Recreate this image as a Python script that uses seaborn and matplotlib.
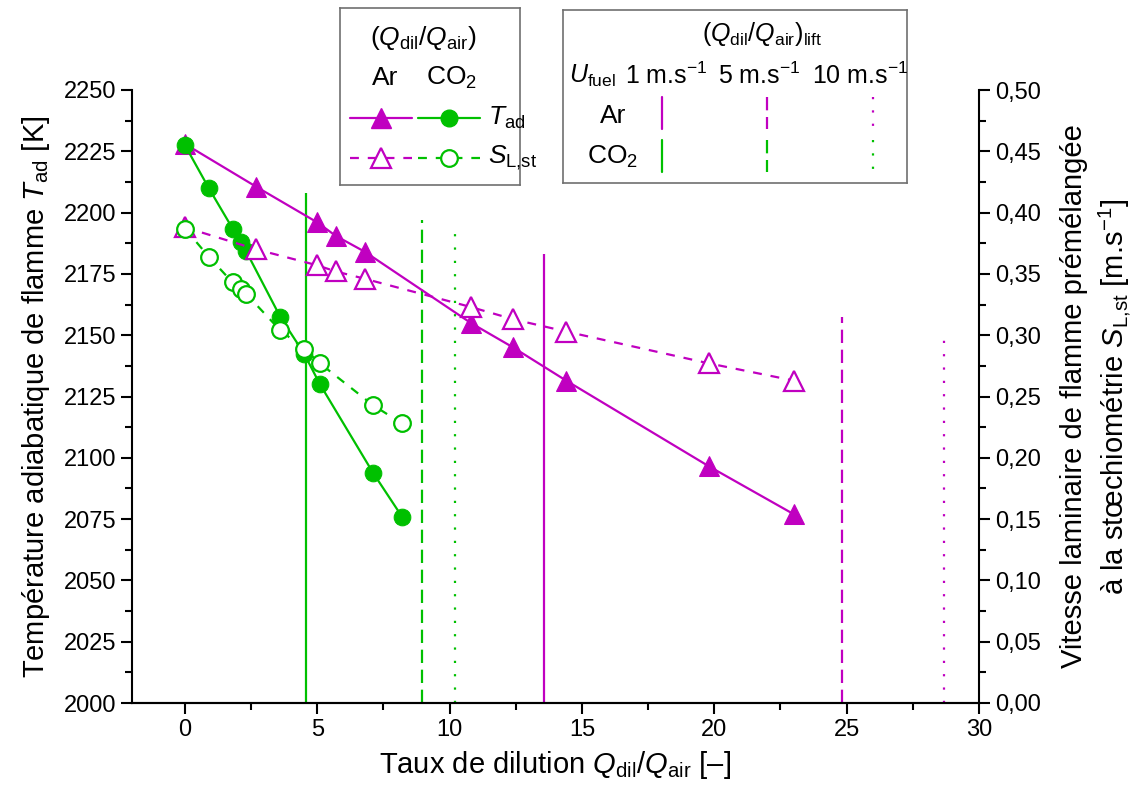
import numpy as np
import pandas as pd
import matplotlib
matplotlib.use('Agg')
import matplotlib.pyplot as plt
from matplotlib.ticker import MultipleLocator, FuncFormatter
import seaborn as sns

# ---- data ----
ar_x = [0.0, 2.7, 5.0, 5.7, 6.8, 10.8, 12.4, 14.4, 19.8, 23.0]
ar_tad = [2228, 2210.5, 2196, 2190.5, 2184, 2155, 2145, 2131.5, 2096.5, 2077]
ar_sl = [0.388, 0.370, 0.357, 0.352, 0.346, 0.323, 0.313, 0.303, 0.277, 0.263]

co2_x = [0.0, 0.9, 1.8, 2.1, 2.3, 3.6, 4.5, 5.1, 7.1, 8.2]
co2_tad = [2227.5, 2210, 2193.5, 2188, 2184.5, 2157.5, 2142.5, 2130, 2094, 2076]
co2_sl = [0.387, 0.364, 0.343, 0.338, 0.334, 0.304, 0.289, 0.277, 0.243, 0.228]

# lift-off dilution rate for U_fuel = 1, 5, 10 m/s
lift_speed = ['1', '5', '10']
ar_lift = [13.55, 24.82, 28.67]
ar_lift_top = [2183, 2157.5, 2152]
co2_lift = [4.57, 8.95, 10.19]
co2_lift_top = [2208, 2197, 2192]

MAG = '#C000C0'
GRN = '#00C000'
lift_styles = ['-', (0, (6, 3)), (0, (1, 5))]

sns.set_theme(style='ticks')
plt.rcParams['font.family'] = ['Liberation Sans', 'DejaVu Sans']
plt.rcParams['mathtext.fontset'] = 'custom'
plt.rcParams['mathtext.rm'] = 'Liberation Sans'
plt.rcParams['mathtext.it'] = 'Liberation Sans:italic'
plt.rcParams['mathtext.bf'] = 'Liberation Sans:bold'
for k in ['text.color', 'axes.labelcolor', 'xtick.color', 'ytick.color', 'axes.edgecolor']:
    plt.rcParams[k] = 'black'

fig = plt.figure(figsize=(11.37, 7.85), dpi=100)
ax = fig.add_axes([132 / 1137, 1 - 703 / 785, (979 - 132) / 1137, (703 - 90) / 785])
ax2 = ax.twinx()

# lift-off lines
for x, top, ls in zip(co2_lift, co2_lift_top, lift_styles):
    ax.vlines(x, 2000, top, color=GRN, lw=1.6, linestyles=[ls])
for x, top, ls in zip(ar_lift, ar_lift_top, lift_styles):
    ax.vlines(x, 2000, top, color=MAG, lw=1.6, linestyles=[ls])

df_ar = pd.DataFrame({'x': ar_x, 'tad': ar_tad, 'sl': ar_sl})
df_co2 = pd.DataFrame({'x': co2_x, 'tad': co2_tad, 'sl': co2_sl})

sns.lineplot(data=df_ar, x='x', y='tad', ax=ax, color=MAG, lw=1.6, marker='^',
             markersize=14, markeredgecolor=MAG, markerfacecolor=MAG)
sns.lineplot(data=df_co2, x='x', y='tad', ax=ax, color=GRN, lw=1.6, marker='o',
             markersize=12, markeredgecolor=GRN, markerfacecolor=GRN)
sns.lineplot(data=df_ar, x='x', y='sl', ax=ax2, color=MAG, lw=1.6, marker='^',
             linestyle=(0, (4, 4)), markersize=14, markeredgecolor=MAG,
             markerfacecolor='white', markeredgewidth=1.6)
sns.lineplot(data=df_co2, x='x', y='sl', ax=ax2, color=GRN, lw=1.6, marker='o',
             linestyle=(0, (4, 4)), markersize=12, markeredgecolor=GRN,
             markerfacecolor='white', markeredgewidth=1.6)

ax.set_xlim(-2, 30)
ax.set_ylim(2000, 2250)
ax2.set_ylim(0, 0.5)
ax.xaxis.set_major_locator(MultipleLocator(5))
ax.xaxis.set_minor_locator(MultipleLocator(2.5))
ax.yaxis.set_major_locator(MultipleLocator(25))
ax.yaxis.set_minor_locator(MultipleLocator(12.5))
ax2.yaxis.set_major_locator(MultipleLocator(0.05))
ax2.yaxis.set_minor_locator(MultipleLocator(0.025))
ax2.yaxis.set_major_formatter(FuncFormatter(lambda v, _: f'{v:.2f}'.replace('.', ',')))

for a in (ax, ax2):
    a.tick_params(which='major', direction='out', length=8, width=1.5, labelsize=17,
                  color='black', labelcolor='black')
    a.tick_params(which='minor', direction='out', length=5, width=1.5, color='black')
    for s in a.spines.values():
        s.set_linewidth(1.5)
        s.set_color('black')
    a.spines['top'].set_visible(False)
ax2.spines['left'].set_visible(False)
ax.spines['right'].set_visible(False)

ax.set_xlabel(r'Taux de dilution $Q_{\rm dil}/Q_{\rm air}$ [–]', fontsize=21, labelpad=6)
ax.set_ylabel(r'Température adiabatique de flamme $T_{\rm ad}$ [K]', fontsize=21, labelpad=8)
ax2.set_ylabel('Vitesse laminaire de flamme prémélangée\n'
               r'à la stœchiométrie $S_{\rm L{,}st}$ [m.s$^{-1}$]', fontsize=21, labelpad=14,
               linespacing=1.3)

# ---- legend box 1: symbols ----
lg1 = fig.add_axes([340 / 1137, 1 - 185 / 785, 180 / 1137, 177 / 785])
lg1.set_xlim(340, 520)
lg1.set_ylim(185, 8)
lg1.set_xticks([])
lg1.set_yticks([])
for s in lg1.spines.values():
    s.set_color('#707070')
    s.set_linewidth(1.2)
lg1.text(423, 38, r'$(Q_{\rm dil}/Q_{\rm air})$', fontsize=19, ha='center', va='center')
lg1.text(385, 78, 'Ar', fontsize=19, ha='center', va='center')
lg1.text(452, 78, r'CO$_2$', fontsize=19, ha='center', va='center')
lg1.plot([350, 381, 412], [118, 118, 118], color=MAG, lw=1.6, marker='^', ms=14,
         markevery=[1], mfc=MAG, mec=MAG)
lg1.plot([418, 449, 480], [118, 118, 118], color=GRN, lw=1.6, marker='o', ms=12,
         markevery=[1], mfc=GRN, mec=GRN)
lg1.plot([350, 381, 412], [158, 158, 158], color=MAG, lw=1.6, marker='^', ms=14,
         markevery=[1], mfc='white', mec=MAG, mew=1.6, ls=(0, (4, 4)))
lg1.plot([418, 449, 480], [158, 158, 158], color=GRN, lw=1.6, marker='o', ms=12,
         markevery=[1], mfc='white', mec=GRN, mew=1.6, ls=(0, (4, 4)))
lg1.text(488, 118, r'$T_{\rm ad}$', fontsize=19, ha='left', va='center')
lg1.text(488, 158, r'$S_{\rm L{,}st}$', fontsize=19, ha='left', va='center')

# ---- legend box 2: lift-off lines ----
lg2 = fig.add_axes([563 / 1137, 1 - 183 / 785, 344 / 1137, 173 / 785])
lg2.set_xlim(563, 907)
lg2.set_ylim(183, 10)
lg2.set_xticks([])
lg2.set_yticks([])
for s in lg2.spines.values():
    s.set_color('#707070')
    s.set_linewidth(1.2)
lg2.text(762, 34, r'$(Q_{\rm dil}/Q_{\rm air})_{\rm lift}$', fontsize=18, ha='center', va='center')
lg2.text(569, 76, r'$U_{\rm fuel}$', fontsize=18, ha='left', va='center')
for xc, sp in zip([666, 759, 860], lift_speed):
    lg2.text(xc, 76, sp + r' m.s$^{-1}$', fontsize=18, ha='center', va='center')
lg2.text(613, 116, 'Ar', fontsize=19, ha='center', va='center')
lg2.text(613, 157, r'CO$_2$', fontsize=19, ha='center', va='center')
for xc, ls in zip([662, 767, 873], lift_styles):
    lg2.plot([xc, xc], [97, 129], color=MAG, lw=1.6, ls=ls)
    lg2.plot([xc, xc], [140, 172], color=GRN, lw=1.6, ls=ls)

fig.savefig('out.png', dpi=100)
